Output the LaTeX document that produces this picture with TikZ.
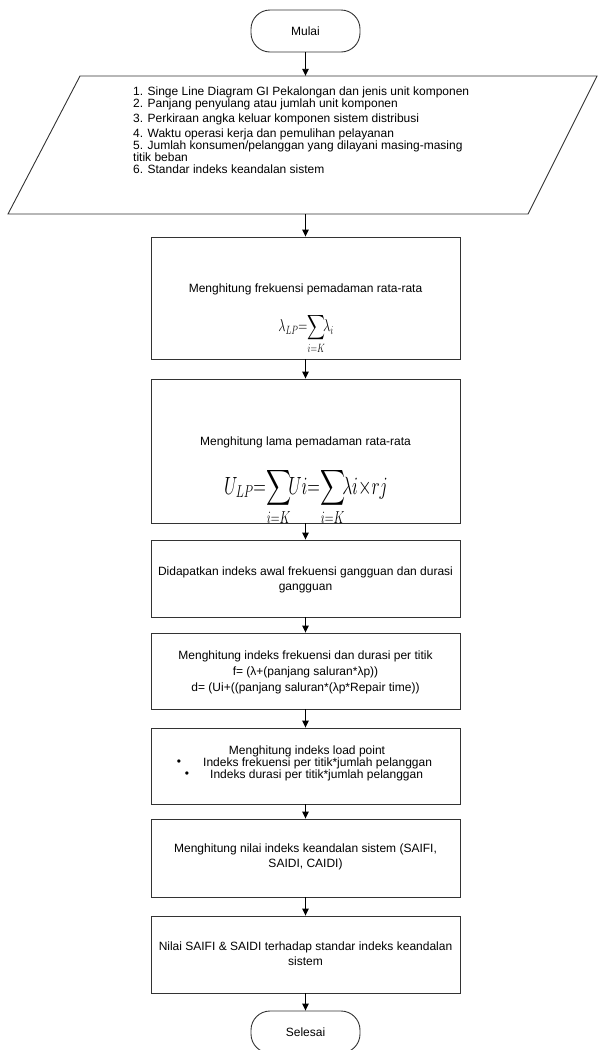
\documentclass[tikz,border=0pt]{standalone}
\usepackage{amsmath}
\usepackage{exscale}
\usepackage{fontspec}
\setmainfont{Liberation Sans}
\usetikzlibrary{arrows.meta}
\begin{document}
\begin{tikzpicture}[x=1pt,y=-1pt,
  box/.style={draw=black!80, line width=0.9pt, minimum width=309pt, inner sep=0pt},
  term/.style={draw=black!80, line width=0.9pt, rounded corners=19pt, minimum width=109pt, minimum height=42pt, inner sep=0pt, font=\fontsize{12}{12}\selectfont},
  arr/.style={draw=black, line width=0.9pt, -{Triangle[length=7pt,width=6.5pt]}},
  txt/.style={font=\fontsize{12}{15}\selectfont, align=center, inner sep=0pt},
  formula/.style={inner sep=0pt}]
\useasboundingbox (0,0) rectangle (598,1050);
% terminals
\node[term] (mulai) at (305.5,31) {Mulai};
\node[term] (selesai) at (305.5,1032) {Selesai};
% input parallelogram
\draw[draw=black!80, line width=0.9pt] (80,76) -- (597,76) -- (528,214) -- (8,214) -- cycle;
\node[minimum width=450pt, minimum height=138pt, inner sep=0pt] (input) at (305.5,145) {};
\node[anchor=north west, align=left, inner sep=0pt, font=\fontsize{12}{12}\selectfont] (intext) at (133,86.5)
 {1. Singe Line Diagram GI Pekalongan dan jenis unit komponen\\
  2. Panjang penyulang atau jumlah unit komponen\\[3pt]
  3. Perkiraan angka keluar komponen sistem distribusi\\[3pt]
  4. Waktu operasi kerja dan pemulihan pelayanan\\
  5. Jumlah konsumen/pelanggan yang dilayani masing-masing\\
  titik beban\\
  6. Standar indeks keandalan sistem};
% process boxes
\node[box, minimum height=122pt] (b1) at (305.5,298) {};
\node[box, minimum height=144pt] (b2) at (305.5,451) {};
\node[box, minimum height=77pt] (b3) at (305.5,578.5) {};
\node[box, minimum height=76pt] (b4) at (305.5,671) {};
\node[box, minimum height=76pt] (b5) at (305.5,766) {};
\node[box, minimum height=78pt] (b6) at (305.5,858) {};
\node[box, minimum height=77pt] (b7) at (305.5,954.5) {};
% texts
\node[txt] (t1) at (305.5,289) {Menghitung frekuensi pemadaman rata-rata};
\node[formula, font=\fontsize{17}{17}\selectfont] (f1) at (306,334) {\scalebox{0.72}[1]{$\displaystyle\lambda_{LP}{=}\!\sum\limits_{i=K}\!\!\lambda_i$}};
\node[txt] (t2) at (305.5,442) {Menghitung lama pemadaman rata-rata};
\node[formula, font=\fontsize{24}{24}\selectfont] (f2) at (306,497) {\scalebox{0.7}[1]{$\displaystyle U_{LP}{=}\!\sum\limits_{i=K}\!\!Ui{=}\!\sum\limits_{i=K}\!\!\lambda i{\times}rj$}};
\node[txt] (t3) at (305.5,579.5) {Didapatkan indeks awal frekuensi gangguan dan durasi\\gangguan};
\node[txt, font=\fontsize{12}{16}\selectfont] (t4) at (305.5,672) {Menghitung indeks frekuensi dan durasi per titik\\f= (λ+(panjang saluran*λp))\\d= (Ui+((panjang saluran*(λp*Repair time))};
\node[txt] (t5) at (307,751) {Menghitung indeks load point};
\node[txt] (bul1) at (179,763) {•};
\node[txt, anchor=west] (t5a) at (203,763) {Indeks frekuensi per titik*jumlah pelanggan};
\node[txt] (bul2) at (187,775) {•};
\node[txt, anchor=west] (t5b) at (210,775) {Indeks durasi per titik*jumlah pelanggan};
\node[txt] (t6) at (305.5,857) {Menghitung nilai indeks keandalan sistem (SAIFI,\\SAIDI, CAIDI)};
\node[txt] (t7) at (305.5,953.5) {Nilai SAIFI \& SAIDI terhadap standar indeks keandalan\\sistem};
% connectors
\draw[arr] (mulai.south) -- (input.north);
\draw[arr] (input.south) -- (b1.north);
\draw[arr] (b1.south) -- (b2.north);
\draw[arr] (b2.south) -- (b3.north);
\draw[arr] (b3.south) -- (b4.north);
\draw[arr] (b4.south) -- (b5.north);
\draw[arr] (b5.south) -- (b6.north);
\draw[arr] (b6.south) -- (b7.north);
\draw[arr] (b7.south) -- (selesai.north);
\end{tikzpicture}
\end{document}
